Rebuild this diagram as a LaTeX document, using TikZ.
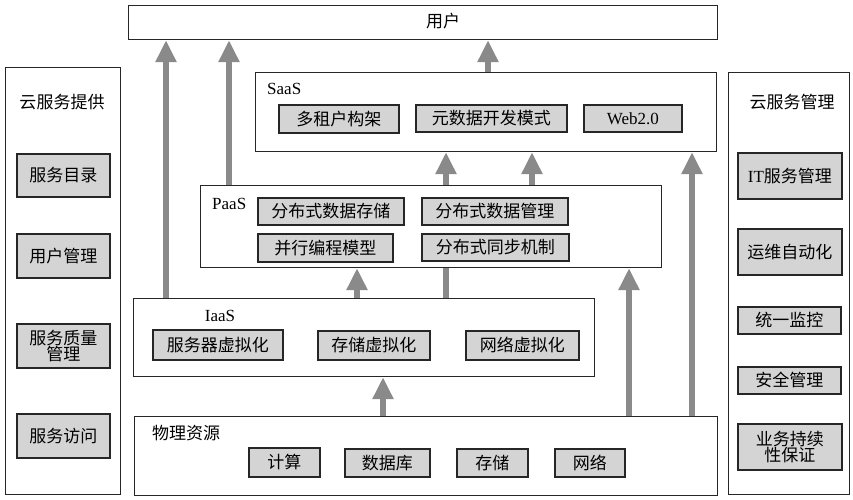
\documentclass[tikz,border=0pt]{standalone}
\usepackage{fontspec}
\setmainfont{Liberation Serif}
\newfontfamily\cjk{Noto Sans CJK SC}
\usetikzlibrary{arrows.meta}
\definecolor{arrgray}{HTML}{8A8A8A}
\definecolor{boxgray}{HTML}{D4D4D4}
\tikzset{
  outer/.style={draw=black!85, line width=1.2pt, inner sep=0pt, anchor=north west},
  gbox/.style={draw=black!85, fill=boxgray, line width=1.7pt, inner sep=0pt, anchor=north west, align=center},
  lbl/.style={inner sep=0pt},
  arr/.style={draw=arrgray, line width=6pt, -{Triangle[width=20pt,length=22pt]}},
  shaft/.style={draw=arrgray, line width=6pt},
}
\begin{document}
\begin{tikzpicture}[x=1pt, y=-1pt, font=\fontsize{17}{17}\selectfont\cjk]
\useasboundingbox (0,0) rectangle (853,500);
% x positions of connectors
\coordinate (xa) at (166,0);
\coordinate (xb) at (229,0);
\coordinate (xc) at (488,0);
\coordinate (xd) at (446,0);
\coordinate (xe) at (532,0);
\coordinate (xf) at (357,0);
\coordinate (xg) at (383,0);
\coordinate (xh) at (629,0);
\coordinate (xi) at (692,0);
% user
\node[outer, minimum width=589pt, minimum height=34pt] (user) at (128,5) {};
\node[lbl] (usert) at (443,21) {用户};
% left panel
\node[outer, minimum width=115pt, minimum height=427pt] (left) at (5,67) {};
\node[lbl] (leftt) at (62,102) {云服务提供};
\node[gbox, minimum width=93pt, minimum height=43pt] (b1) at (16,153) {服务目录};
\node[gbox, minimum width=93pt, minimum height=44pt] (b2) at (16,233) {用户管理};
\node[gbox, minimum width=93pt, minimum height=44pt] (b3) at (16,323) {服务质量\\[-1pt]管理};
\node[gbox, minimum width=93pt, minimum height=44pt] (b4) at (16,413) {服务访问};
% right panel
\node[outer, minimum width=121pt, minimum height=422pt] (right) at (728,72) {};
\node[lbl] (rightt) at (792,102) {云服务管理};
\node[gbox, minimum width=104pt, minimum height=46pt] (r1) at (737,152) {{\rmfamily IT}服务管理};
\node[gbox, minimum width=104pt, minimum height=46pt] (r2) at (737,228) {运维自动化};
\node[gbox, minimum width=103pt, minimum height=27pt] (r3) at (737,306) {统一监控};
\node[gbox, minimum width=103pt, minimum height=27pt] (r4) at (737,366) {安全管理};
\node[gbox, minimum width=104pt, minimum height=46pt] (r5) at (737,423) {业务持续\\[-1pt]性保证};
% SaaS
\node[outer, minimum width=461pt, minimum height=79pt] (saas) at (255,72) {};
\node[lbl, anchor=west, font=\fontsize{17}{17}\selectfont\rmfamily] (saast) at (267,89) {SaaS};
\node[gbox, minimum width=120pt, minimum height=28pt] (s1) at (278,104) {多租户构架};
\node[gbox, minimum width=151pt, minimum height=27pt] (s2) at (415,104) {元数据开发模式};
\node[gbox, minimum width=98pt, minimum height=27pt, font=\fontsize{17}{17}\selectfont\rmfamily] (s3) at (583,104) {Web2.0};
% PaaS
\node[outer, minimum width=461pt, minimum height=82pt] (paas) at (200,185) {};
\node[lbl, anchor=west, font=\fontsize{17}{17}\selectfont\rmfamily] (paast) at (212,204) {PaaS};
\node[gbox, minimum width=146pt, minimum height=27pt] (p1) at (257,197) {分布式数据存储};
\node[gbox, minimum width=146pt, minimum height=27pt] (p2) at (421,197) {分布式数据管理};
\node[gbox, minimum width=135pt, minimum height=28pt] (p3) at (257,233) {并行编程模型};
\node[gbox, minimum width=147pt, minimum height=27pt] (p4) at (421,233) {分布式同步机制};
% IaaS
\node[outer, minimum width=461pt, minimum height=78pt] (iaas) at (133,298) {};
\node[lbl, font=\fontsize{17}{17}\selectfont\rmfamily] (iaast) at (220,316) {IaaS};
\node[gbox, minimum width=130pt, minimum height=30pt] (i1) at (152,329) {服务器虚拟化};
\node[gbox, minimum width=112pt, minimum height=29pt] (i2) at (317,330) {存储虚拟化};
\node[gbox, minimum width=113pt, minimum height=29pt] (i3) at (465,330) {网络虚拟化};
% physical
\node[outer, minimum width=583pt, minimum height=79pt] (phys) at (134,416) {};
\node[lbl, anchor=west] (physt) at (152,433) {物理资源};
\node[gbox, minimum width=71pt, minimum height=29pt] (f1) at (248,447) {计算};
\node[gbox, minimum width=85pt, minimum height=28pt] (f2) at (344,448) {数据库};
\node[gbox, minimum width=71pt, minimum height=28pt] (f3) at (456,448) {存储};
\node[gbox, minimum width=70pt, minimum height=28pt] (f4) at (554,448) {网络};
% connectors
\draw[arr] (iaas.north -| xa) -- (user.south -| xa);
\draw[arr] (paas.north -| xb) -- (user.south -| xb);
\draw[arr] (saas.north -| xc) -- (user.south -| xc);
\draw[arr] (paas.north -| xd) -- (saas.south -| xd);
\draw[arr] (paas.north -| xe) -- (saas.south -| xe);
\draw[arr] (iaas.north -| xf) -- (paas.south -| xf);
\draw[shaft] (iaas.north -| xd) -- (paas.south -| xd);
\draw[arr] (phys.north -| xg) -- (iaas.south -| xg);
\draw[arr] (phys.north -| xh) -- (paas.south -| xh);
\draw[arr] (phys.north -| xi) -- (saas.south -| xi);
\end{tikzpicture}
\end{document}
